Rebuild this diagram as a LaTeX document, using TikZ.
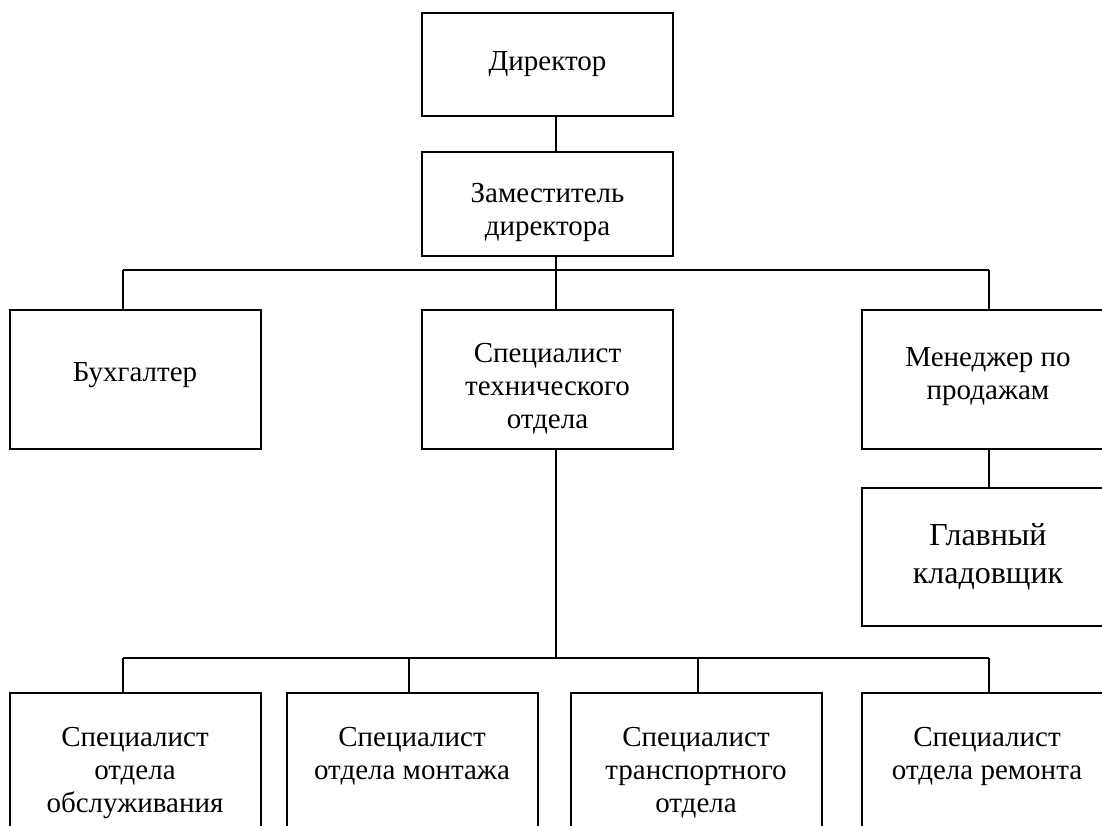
\documentclass[tikz,border=0pt]{standalone}
\usepackage{fontspec}
\setmainfont{Liberation Serif}
\newcommand{\shifted}[2]{\raisebox{#1}[\height][\depth]{\begin{tabular}{@{}c@{}}#2\end{tabular}}}
\newcommand{\btext}[1]{\parbox[t][160pt][t]{250pt}{\centering\vspace*{34pt}#1}}
\begin{document}
\begin{tikzpicture}[x=1pt,y=-1pt,
  box/.style={draw=black, line width=2pt, fill=white, inner sep=0pt, align=center,
    minimum width=251pt, font=\fontsize{29}{33}\selectfont},
  conn/.style={draw=black, line width=2pt}]
\useasboundingbox (0,0) rectangle (1102,826);
\clip (0,0) rectangle (1102,826);
\fill[white] (0,0) rectangle (1102,826);
% top level
\node[box, minimum height=103pt] (dir) at (547.5,64.5) {Директор};
\node[box, minimum height=104pt] (dep) at (547.5,204) {\shifted{-8pt}{Заместитель\\директора}};
% second level
\node[box, minimum height=139pt] (buh) at (135,379.5) {\shifted{5pt}{Бухгалтер}};
\node[box, minimum height=139pt] (tech) at (547.5,379.5) {\shifted{-9pt}{Специалист\\технического\\отдела}};
\node[box, minimum height=139pt, minimum width=252pt] (man) at (988,379.5) {\shifted{3pt}{Менеджер по\\продажам}};
\node[box, minimum height=138pt, minimum width=252pt, font=\fontsize{32}{38}\selectfont] (klad) at (988,557) {Главный\\кладовщик};
% bottom level
\node[box, anchor=north] (b1) at (135,692) {\btext{Специалист\\отдела\\обслуживания}};
\node[box, anchor=north] (b2) at (412,692) {\btext{Специалист\\отдела монтажа}};
\node[box, anchor=north] (b3) at (696,692) {\btext{Специалист\\транспортного\\отдела}};
\node[box, anchor=north] (b4) at (987,692) {\btext{Специалист\\отдела ремонта}};
% bus coordinates
\coordinate (t1) at (123,270);
\coordinate (t2) at (556,270);
\coordinate (t3) at (989,270);
\coordinate (u0) at (556,658);
\coordinate (u1) at (123,658);
\coordinate (u2) at (409,658);
\coordinate (u3) at (698,658);
\coordinate (u4) at (989,658);
% connectors
\draw[conn] (dir.south -| t2) -- (dep.north -| t2);
\draw[conn] (dep.south -| t2) -- (t2);
\draw[conn] (t1) -- (t3);
\draw[conn] (t1) -- (buh.north -| t1);
\draw[conn] (t2) -- (tech.north -| t2);
\draw[conn] (t3) -- (man.north -| t3);
\draw[conn] (man.south -| t3) -- (klad.north -| t3);
\draw[conn] (tech.south -| u0) -- (u0);
\draw[conn] (u1) -- (u4);
\draw[conn] (u1) -- (b1.north -| u1);
\draw[conn] (u2) -- (b2.north -| u2);
\draw[conn] (u3) -- (b3.north -| u3);
\draw[conn] (u4) -- (b4.north -| u4);
\end{tikzpicture}
\end{document}
